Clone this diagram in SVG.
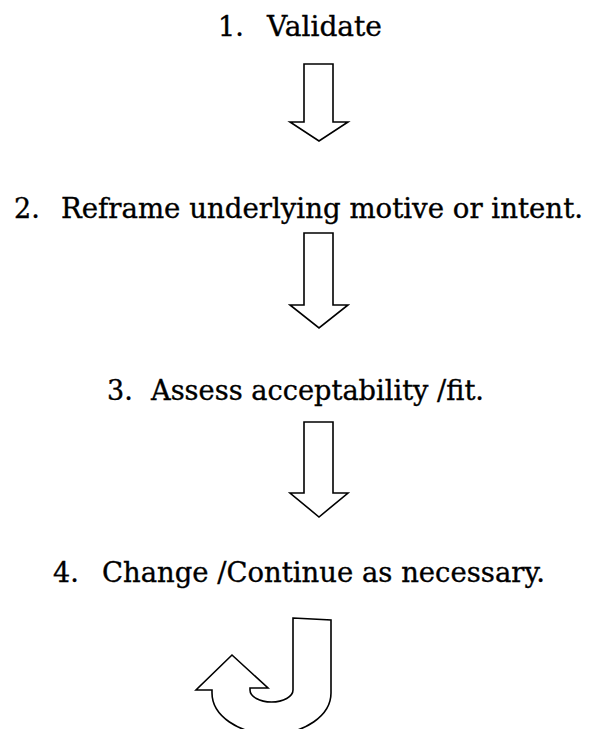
<svg xmlns="http://www.w3.org/2000/svg" width="589" height="729" viewBox="0 0 589 729">
  <style>
    .step { font-family: "DejaVu Serif", "Liberation Serif", serif; font-size: 27px; fill: #000; stroke: #000; stroke-width: 0.35; }
    .arrow { fill: #fff; stroke: #000; stroke-width: 1.6; stroke-linejoin: miter; }
  </style>
  <rect width="589" height="729" fill="#fff"/>

  <g id="step1">
    <text class="step" y="36"><tspan x="218">1.</tspan><tspan x="267" textLength="115" lengthAdjust="spacingAndGlyphs">Validate</tspan></text>
  </g>
  <g id="step2">
    <text class="step" y="218"><tspan x="14">2.</tspan><tspan x="61" textLength="522" lengthAdjust="spacingAndGlyphs">Reframe underlying motive or intent.</tspan></text>
  </g>
  <g id="step3">
    <text class="step" y="400"><tspan x="107">3.</tspan><tspan x="151" textLength="333" lengthAdjust="spacingAndGlyphs">Assess acceptability /fit.</tspan></text>
  </g>
  <g id="step4">
    <text class="step" y="582"><tspan x="53">4.</tspan><tspan x="102" textLength="443" lengthAdjust="spacingAndGlyphs">Change /Continue as necessary.</tspan></text>
  </g>

  <g id="connectors">
    <path class="arrow" d="M304,64 H333 V122 H348 L319,141 L290,122 H304 Z"/>
    <path class="arrow" d="M304,233 H333 V305 H348 L319,328 L290,305 H304 Z"/>
    <path class="arrow" d="M304,422 H333 V493 H348 L319,517 L290,493 H304 Z"/>
    <path class="arrow" d="M293,618 L331,620 V693 A59.5,41 0 0 1 212,693 V690 H196 L232,655 L268,688 H250 V690 A21.5,12 0 0 0 293,690 Z"/>
  </g>
</svg>
